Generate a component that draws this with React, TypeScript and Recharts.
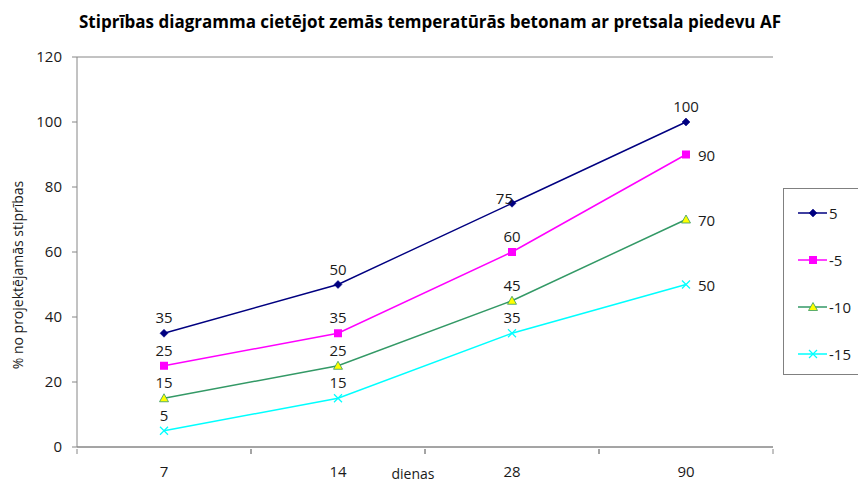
import React from 'react';
import { ComposedChart, Line, XAxis, YAxis, CartesianGrid, LabelList, Customized } from 'recharts';

const categories = ['7', '14', '28', '90'];
const s5 = [35, 50, 75, 100];
const sMinus5 = [25, 35, 60, 90];
const sMinus10 = [15, 25, 45, 70];
const sMinus15 = [5, 15, 35, 50];
const yTicks = [0, 20, 40, 60, 80, 100, 120];
const seriesNames = ['5', '-5', '-10', '-15'];

const data = categories.map((c, i) => ({
  day: c,
  a: s5[i],
  b: sMinus5[i],
  c: sMinus10[i],
  d: sMinus15[i],
}));

const FONT = '"Open Sans", sans-serif';
const NAVY = '#000080';
const MAGENTA = '#FF00FF';
const GREEN = '#339966';
const YELLOW = '#FFFF00';
const CYAN = '#00FFFF';
const GRID = '#868686';

const Diamond = (props: any) => {
  const { cx, cy } = props;
  if (cx == null || cy == null) return null;
  return <path d={`M${cx},${cy - 4}L${cx + 4},${cy}L${cx},${cy + 4}L${cx - 4},${cy}Z`} fill={NAVY} stroke={NAVY} strokeWidth={0.5} />;
};
const Square = (props: any) => {
  const { cx, cy } = props;
  if (cx == null || cy == null) return null;
  return <rect x={cx - 4} y={cy - 4} width={8} height={8} fill={MAGENTA} />;
};
const Triangle = (props: any) => {
  const { cx, cy } = props;
  if (cx == null || cy == null) return null;
  return <path d={`M${cx},${cy - 4.5}L${cx + 4.5},${cy + 3.5}L${cx - 4.5},${cy + 3.5}Z`} fill={YELLOW} stroke={GREEN} strokeWidth={0.8} />;
};
const Cross = (props: any) => {
  const { cx, cy } = props;
  if (cx == null || cy == null) return null;
  return <path d={`M${cx - 4},${cy - 4}L${cx + 4},${cy + 4}M${cx - 4},${cy + 4}L${cx + 4},${cy - 4}`} stroke={CYAN} strokeWidth={1.2} />;
};

const makeLabel = (series: string) => (props: any) => {
  const { x, y, value, index } = props;
  if (x == null || y == null) return null;
  let tx = x;
  let ty = y - 10;
  let anchor: 'middle' | 'start' | 'end' = 'middle';
  if (series === '5' && index === 2) {
    tx = x + 1;
    ty = y + 1;
    anchor = 'end';
  } else if (series !== '5' && index === 3) {
    tx = x + 12;
    ty = y + 6;
    anchor = 'start';
  }
  return (
    <text x={tx} y={ty} textAnchor={anchor} fontFamily={FONT} fontSize={15} fill="#1a1a1a">
      {value}
    </text>
  );
};

const XTick = (props: any) => {
  const { x, y, payload } = props;
  const half = payload && payload.offset ? payload.offset : 87;
  return (
    <g>
      <line x1={x - half} y1={y} x2={x - half} y2={y + 5} stroke={GRID} />
      <line x1={x + half} y1={y} x2={x + half} y2={y + 5} stroke={GRID} />
      <text x={x} y={y + 28} textAnchor="middle" fontFamily={FONT} fontSize={15} fill="#1a1a1a">
        {payload.value}
      </text>
    </g>
  );
};

const Texts = () => (
  <g>
    <text x={430} y={28} textAnchor="middle" fontFamily={FONT} fontWeight="bold" fontSize={17} fill="#000">
      Stiprības diagramma cietējot zemās temperatūrās betonam ar pretsala piedevu AF
    </text>
    <text
      x={23}
      y={275}
      textAnchor="middle"
      transform="rotate(-90, 23, 275)"
      fontFamily={FONT}
      fontSize={14}
      fill="#1a1a1a"
    >
      % no projektējamās stiprības
    </text>
    <text x={413} y={479} textAnchor="middle" fontFamily={FONT} fontSize={14} fill="#1a1a1a">
      dienas
    </text>
  </g>
);

const legendMarkers = [Diamond, Square, Triangle, Cross];
const legendColors = [NAVY, MAGENTA, GREEN, CYAN];

const LegendBox = () => (
  <div
    style={{
      position: 'absolute',
      left: 783,
      top: 188,
      width: 100,
      height: 187,
      border: '1px solid #808080',
      background: '#fff',
      boxSizing: 'border-box',
    }}
  >
    {seriesNames.map((name, i) => {
      const M = legendMarkers[i];
      return (
        <div
          key={name}
          style={{ position: 'absolute', left: 0, top: 12 + i * 47, height: 24, display: 'flex', alignItems: 'center' }}
        >
          <svg width={45} height={24} style={{ display: 'block' }}>
            <line x1={14} y1={12} x2={43} y2={12} stroke={legendColors[i]} strokeWidth={1.5} />
            <M cx={29} cy={12} />
          </svg>
          <span style={{ fontFamily: FONT, fontSize: 15, color: '#1a1a1a', lineHeight: '24px' }}>{name}</span>
        </div>
      );
    })}
  </div>
);

export default function App() {
  return (
    <div style={{ position: 'fixed', left: 0, top: 0, width: 858, height: 482, overflow: 'hidden', background: '#fff' }}>
      <ComposedChart
        width={858}
        height={482}
        data={data}
        margin={{ top: 57, right: 85, bottom: 0, left: 0 }}
      >
        <CartesianGrid horizontal vertical={false} stroke={GRID} strokeWidth={1} />
        <XAxis
          dataKey="day"
          scale="band"
          height={35}
          axisLine={{ stroke: GRID }}
          tickLine={false}
          tickSize={0}
          tick={<XTick />}
          interval={0}
        />
        <YAxis
          yAxisId="left"
          domain={[0, 120]}
          ticks={yTicks}
          width={77}
          tickSize={5}
          tickMargin={10}
          axisLine={{ stroke: GRID }}
          tickLine={{ stroke: GRID }}
          tick={{ fontFamily: FONT, fontSize: 15, fill: '#1a1a1a' }}
          interval={0}
        />
        <YAxis yAxisId="right" orientation="right" width={0} tick={false} tickLine={false} axisLine={{ stroke: GRID }} domain={[0, 120]} />
        <Line yAxisId="left" dataKey="a" stroke={NAVY} strokeWidth={1.4} dot={<Diamond />} activeDot={false} isAnimationActive={false}>
          <LabelList dataKey="a" content={makeLabel('5')} />
        </Line>
        <Line yAxisId="left" dataKey="b" stroke={MAGENTA} strokeWidth={1.5} dot={<Square />} activeDot={false} isAnimationActive={false}>
          <LabelList dataKey="b" content={makeLabel('-5')} />
        </Line>
        <Line yAxisId="left" dataKey="c" stroke={GREEN} strokeWidth={1.5} dot={<Triangle />} activeDot={false} isAnimationActive={false}>
          <LabelList dataKey="c" content={makeLabel('-10')} />
        </Line>
        <Line yAxisId="left" dataKey="d" stroke={CYAN} strokeWidth={1.5} dot={<Cross />} activeDot={false} isAnimationActive={false}>
          <LabelList dataKey="d" content={makeLabel('-15')} />
        </Line>
        <Customized component={Texts} />
      </ComposedChart>
      <LegendBox />
    </div>
  );
}
